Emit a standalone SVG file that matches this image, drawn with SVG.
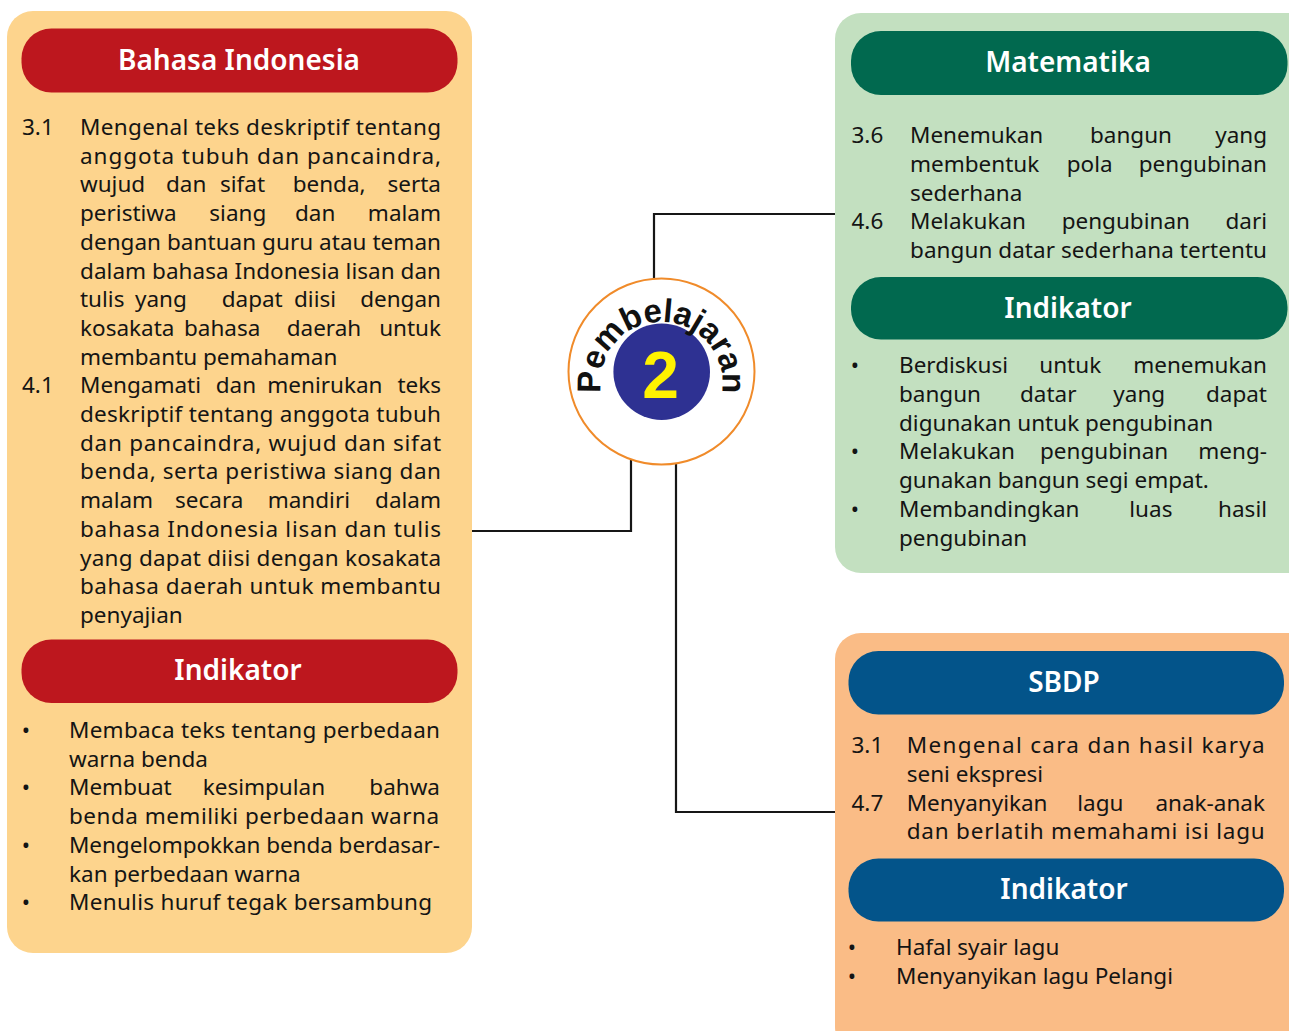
<svg xmlns="http://www.w3.org/2000/svg" width="1289" height="1031" viewBox="0 0 1289 1031">
<style>
.t{font-family:"Noto Sans","Liberation Sans",sans-serif;font-size:22.5px;fill:#141414}
.h{font-family:"Noto Sans","Liberation Sans",sans-serif;font-size:28px;fill:#fff;text-anchor:middle;font-weight:600}
.b{font-family:"Noto Sans","Liberation Sans",sans-serif;font-size:22px;fill:#141414;text-anchor:middle}
.e{text-anchor:end}
.conn{fill:none;stroke:#161616;stroke-width:2.2}
</style>
<defs>
<path id="arc" d="M603.7,402.3 A61,61 0 1 1 719.3,402.3"/>
</defs>
<rect width="1289" height="1031" fill="#fff"/>

<g id="connectors">
<polyline class="conn" points="471,531 631,531 631,460"/>
<polyline class="conn" points="654,278 654,214 835,214"/>
<polyline class="conn" points="835,812 676,812 676,464"/>
</g>

<g id="bahasa-indonesia">
<rect x="7" y="11" width="465" height="942" rx="26" fill="#FDD48D"/>
<rect x="21.5" y="28.5" width="436" height="64" rx="30" fill="#BD171E"/>
<text class="h" x="239" y="69.5">Bahasa Indonesia</text>
<text class="t" x="22" y="135">3.1</text>
<text class="t" x="80" y="135" textLength="361" lengthAdjust="spacing">Mengenal teks deskriptif tentang</text>
<text class="t" x="80" y="163.7" textLength="361" lengthAdjust="spacing">anggota tubuh dan pancaindra,</text>
<text class="t" y="192.4"><tspan x="80">wujud </tspan><tspan x="166">dan </tspan><tspan x="220">sifat </tspan><tspan x="292.7">benda, </tspan><tspan class="e" x="441">serta</tspan></text>
<text class="t" y="221.1"><tspan x="80">peristiwa </tspan><tspan x="209.3">siang </tspan><tspan x="295">dan </tspan><tspan class="e" x="441">malam</tspan></text>
<text class="t" x="80" y="249.8" textLength="361" lengthAdjust="spacing">dengan bantuan guru atau teman</text>
<text class="t" x="80" y="278.5" textLength="361" lengthAdjust="spacing">dalam bahasa Indonesia lisan dan</text>
<text class="t" y="307.2"><tspan x="80">tulis </tspan><tspan x="135">yang </tspan><tspan x="221.7">dapat </tspan><tspan x="294">diisi </tspan><tspan class="e" x="441">dengan</tspan></text>
<text class="t" y="335.9"><tspan x="80">kosakata </tspan><tspan x="184">bahasa </tspan><tspan x="286.7">daerah </tspan><tspan class="e" x="441">untuk</tspan></text>
<text class="t" x="80" y="364.6">membantu pemahaman</text>
<text class="t" x="22" y="393.3">4.1</text>
<text class="t" y="393.3"><tspan x="80">Mengamati </tspan><tspan x="215.7">dan </tspan><tspan x="267.3">menirukan </tspan><tspan class="e" x="441">teks</tspan></text>
<text class="t" x="80" y="422" textLength="361" lengthAdjust="spacing">deskriptif tentang anggota tubuh</text>
<text class="t" x="80" y="450.7" textLength="361" lengthAdjust="spacing">dan pancaindra, wujud dan sifat</text>
<text class="t" x="80" y="479.4" textLength="361" lengthAdjust="spacing">benda, serta peristiwa siang dan</text>
<text class="t" y="508.1"><tspan x="80">malam </tspan><tspan x="175">secara </tspan><tspan x="267.7">mandiri </tspan><tspan class="e" x="441">dalam</tspan></text>
<text class="t" x="80" y="536.8" textLength="361" lengthAdjust="spacing">bahasa Indonesia lisan dan tulis</text>
<text class="t" x="80" y="565.5" textLength="361" lengthAdjust="spacing">yang dapat diisi dengan kosakata</text>
<text class="t" x="80" y="594.2" textLength="361" lengthAdjust="spacing">bahasa daerah untuk membantu</text>
<text class="t" x="80" y="622.9">penyajian</text>
<rect x="21.5" y="639.5" width="436" height="63.5" rx="30" fill="#BD171E"/>
<text class="h" x="238" y="680">Indikator</text>
<text class="b" x="26" y="738">•</text>
<text class="t" x="69" y="738" textLength="371" lengthAdjust="spacing">Membaca teks tentang perbedaan</text>
<text class="t" x="69" y="766.7">warna benda</text>
<text class="b" x="26" y="795.4">•</text>
<text class="t" y="795.4"><tspan x="69">Membuat </tspan><tspan x="202.7">kesimpulan </tspan><tspan class="e" x="440">bahwa</tspan></text>
<text class="t" x="69" y="824.1" textLength="370" lengthAdjust="spacing">benda memiliki perbedaan warna</text>
<text class="b" x="26" y="852.8">•</text>
<text class="t" x="69" y="852.8" textLength="371" lengthAdjust="spacing">Mengelompokkan benda berdasar-</text>
<text class="t" x="69" y="881.5">kan perbedaan warna</text>
<text class="b" x="26" y="910.2">•</text>
<text class="t" x="69" y="910.2" textLength="363" lengthAdjust="spacing">Menulis huruf tegak bersambung</text>
</g>

<g id="matematika">
<rect x="835" y="13" width="480" height="560" rx="26" fill="#C3E0C0"/>
<rect x="851" y="31" width="436.5" height="64" rx="30" fill="#01694F"/>
<text class="h" x="1068" y="72">Matematika</text>
<text class="t" x="851.5" y="143.3">3.6</text>
<text class="t" y="143.3"><tspan x="910">Menemukan </tspan><tspan x="1090">bangun </tspan><tspan class="e" x="1267">yang</tspan></text>
<text class="t" y="172"><tspan x="910">membentuk </tspan><tspan x="1066.7">pola </tspan><tspan class="e" x="1267">pengubinan</tspan></text>
<text class="t" x="910" y="200.7">sederhana</text>
<text class="t" x="851.5" y="229.4">4.6</text>
<text class="t" y="229.4"><tspan x="910">Melakukan </tspan><tspan x="1061.7">pengubinan </tspan><tspan class="e" x="1267">dari</tspan></text>
<text class="t" x="910" y="258.1" textLength="357" lengthAdjust="spacing">bangun datar sederhana tertentu</text>
<rect x="851" y="277" width="436.5" height="62.5" rx="30" fill="#01694F"/>
<text class="h" x="1068" y="317.5">Indikator</text>
<text class="b" x="855" y="373.3">•</text>
<text class="t" y="373.3"><tspan x="899">Berdiskusi </tspan><tspan x="1039.3">untuk </tspan><tspan class="e" x="1267">menemukan</tspan></text>
<text class="t" y="402"><tspan x="899">bangun </tspan><tspan x="1020">datar </tspan><tspan x="1113.3">yang </tspan><tspan class="e" x="1267">dapat</tspan></text>
<text class="t" x="899" y="430.7">digunakan untuk pengubinan</text>
<text class="b" x="855" y="459.4">•</text>
<text class="t" y="459.4"><tspan x="899">Melakukan </tspan><tspan x="1040">pengubinan </tspan><tspan class="e" x="1267">meng-</tspan></text>
<text class="t" x="899" y="488.1">gunakan bangun segi empat.</text>
<text class="b" x="855" y="516.8">•</text>
<text class="t" y="516.8"><tspan x="899">Membandingkan </tspan><tspan x="1129.3">luas </tspan><tspan class="e" x="1267">hasil</tspan></text>
<text class="t" x="899" y="545.5">pengubinan</text>
</g>

<g id="sbdp">
<rect x="835" y="633" width="480" height="420" rx="26" fill="#FABC86"/>
<rect x="848.5" y="651" width="435.5" height="63.5" rx="30" fill="#03548A"/>
<text class="h" x="1064" y="692">SBDP</text>
<text class="t" x="851.5" y="753.3">3.1</text>
<text class="t" x="906.7" y="753.3" textLength="358" lengthAdjust="spacing">Mengenal cara dan hasil karya</text>
<text class="t" x="906.7" y="782">seni ekspresi</text>
<text class="t" x="851.5" y="810.7">4.7</text>
<text class="t" y="810.7"><tspan x="906.7">Menyanyikan </tspan><tspan x="1077.3">lagu </tspan><tspan class="e" x="1265">anak-anak</tspan></text>
<text class="t" x="906.7" y="839.4" textLength="358" lengthAdjust="spacing">dan berlatih memahami isi lagu</text>
<rect x="848.5" y="858.5" width="435.5" height="63" rx="30" fill="#03548A"/>
<text class="h" x="1064" y="899">Indikator</text>
<text class="b" x="852" y="955">•</text>
<text class="t" x="896" y="955">Hafal syair lagu</text>
<text class="b" x="852" y="983.5">•</text>
<text class="t" x="896" y="983.5">Menyanyikan lagu Pelangi</text>
</g>

<g id="pembelajaran-2">
<circle cx="661.5" cy="371.5" r="93" fill="#fff" stroke="#F08B2A" stroke-width="2"/>
<circle cx="661.7" cy="371.7" r="48.3" fill="#2E3192"/>
<text font-family="'Liberation Sans',Arial,sans-serif" font-weight="bold" font-size="33" fill="#111" text-anchor="middle" letter-spacing="-0.3"><textPath href="#arc" startOffset="50%">Pembelajaran</textPath></text>
<text x="660.5" y="398" font-family="'Liberation Sans',Arial,sans-serif" font-weight="bold" font-size="66" fill="#FFF200" text-anchor="middle">2</text>
</g>
</svg>
